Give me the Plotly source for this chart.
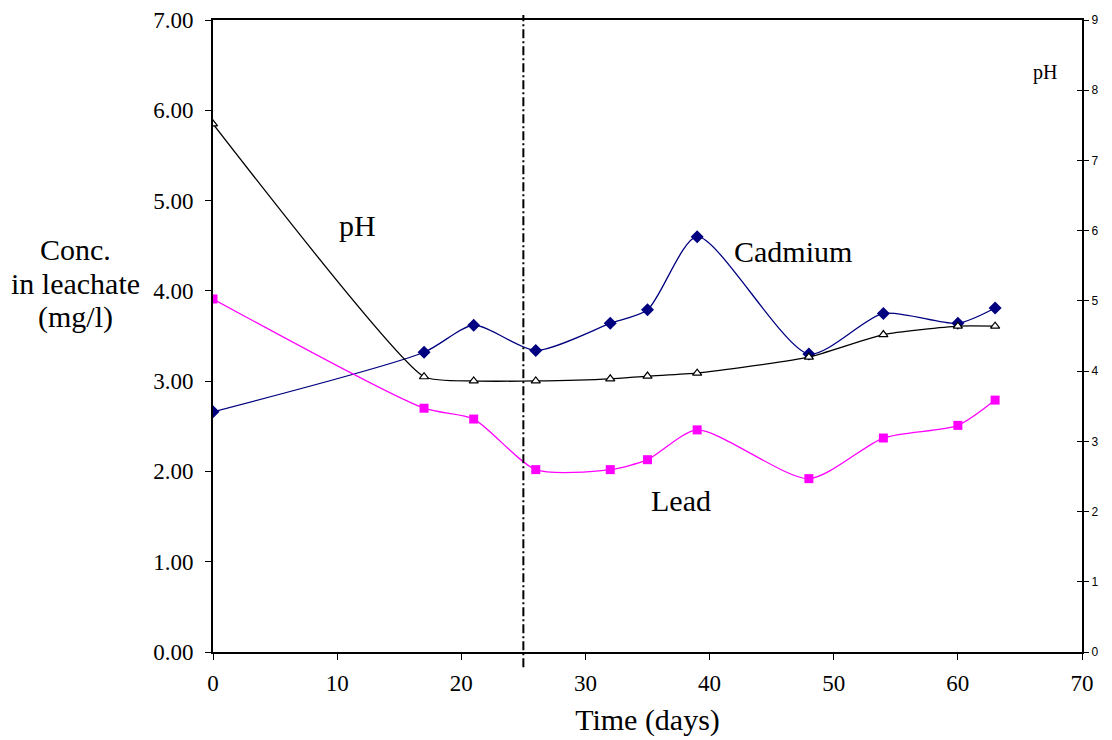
import plotly.graph_objects as go

days = [0, 17, 21, 26, 32, 35, 39, 48, 54, 60, 63]
cadmium = [2.66, 3.32, 3.62, 3.34, 3.64, 3.79, 4.60, 3.30, 3.75, 3.64, 3.81]
lead = [3.91, 2.70, 2.58, 2.02, 2.02, 2.13, 2.46, 1.92, 2.37, 2.51, 2.79]
ph = [7.52, 3.92, 3.86, 3.86, 3.89, 3.93, 3.97, 4.20, 4.52, 4.64, 4.64]

serif = "Liberation Serif, Times New Roman, serif"
sans = "Liberation Sans, Arial, sans-serif"

fig = go.Figure()
fig.add_trace(go.Scatter(x=days, y=cadmium, mode="lines+markers", name="Cadmium",
                         line=dict(color="#000080", width=1.3, shape="spline", smoothing=0.7),
                         marker=dict(symbol="diamond", size=10, color="#000080")))
fig.add_trace(go.Scatter(x=days, y=lead, mode="lines+markers", name="Lead",
                         line=dict(color="#FF00FF", width=1.3, shape="spline", smoothing=0.7),
                         marker=dict(symbol="square", size=9, color="#FF00FF")))
fig.add_trace(go.Scatter(x=days, y=ph, mode="lines+markers", name="pH", yaxis="y2",
                         line=dict(color="black", width=1.3, shape="spline", smoothing=0.5),
                         marker=dict(symbol="triangle-up", size=8, color="white",
                                     line=dict(color="black", width=1.2))))
fig.add_trace(go.Scatter(x=[None], y=[None], yaxis="y3", showlegend=False, hoverinfo="skip"))

fig.add_shape(type="line", xref="x", yref="paper", x0=25, x1=25, y0=-0.024, y1=1.008,
              line=dict(color="black", width=2, dash="9px,3px,2px,3px"))

fig.update_layout(
    width=1112, height=740,
    margin=dict(l=213, r=30, t=20, b=88, autoexpand=False),
    paper_bgcolor="white", plot_bgcolor="white",
    showlegend=False,
    xaxis=dict(range=[0, 70], dtick=10, showgrid=False, zeroline=False, automargin=False,
               showline=True, linecolor="black", linewidth=2, mirror=True,
               ticks="outside", ticklen=6, tickcolor="black", ticklabelstandoff=3,
               tickfont=dict(family=serif, size=23, color="black"),
               title=dict(text="Time (days)", font=dict(family=serif, size=30, color="black"), standoff=14)),
    yaxis=dict(range=[0, 7], dtick=1, tickformat=".2f", showgrid=False, zeroline=False, automargin=False,
               showline=True, linecolor="black", linewidth=2,
               ticks="outside", ticklen=6, tickcolor="black", ticklabelstandoff=7,
               tickfont=dict(family=serif, size=23, color="black")),
    yaxis2=dict(range=[0, 9], dtick=1, overlaying="y", side="right", showgrid=False, zeroline=False,
                automargin=False, showline=True, linecolor="black", linewidth=2,
                ticks="outside", ticklen=5, tickcolor="black",
                tickfont=dict(family=sans, size=12, color="black")),
    yaxis3=dict(range=[0, 9], dtick=1, overlaying="y", side="right", showgrid=False, zeroline=False,
                automargin=False, showline=False, ticks="inside", ticklen=5, tickcolor="black",
                showticklabels=False),
)

anns = [
    dict(text="pH", x=11.6, y=4.72, size=30),
    dict(text="Cadmium", x=46.7, y=4.44, size=30),
    dict(text="Lead", x=37.7, y=1.68, size=30),
    dict(text="pH", x=67.0, y=6.42, size=20),
]
for a in anns:
    fig.add_annotation(text=a["text"], x=a["x"], y=a["y"], xref="x", yref="y", showarrow=False,
                       font=dict(family=serif, size=a["size"], color="black"))

title_lines = ["Conc.", "in leachate", "(mg/l)"]
title_y = [4.46, 4.08, 3.71]
for t, yy in zip(title_lines, title_y):
    fig.add_annotation(text=t, xref="paper", yref="y", x=-0.158, y=yy,
                       xanchor="center", showarrow=False,
                       font=dict(family=serif, size=30, color="black"))

fig.write_html("out.html")
